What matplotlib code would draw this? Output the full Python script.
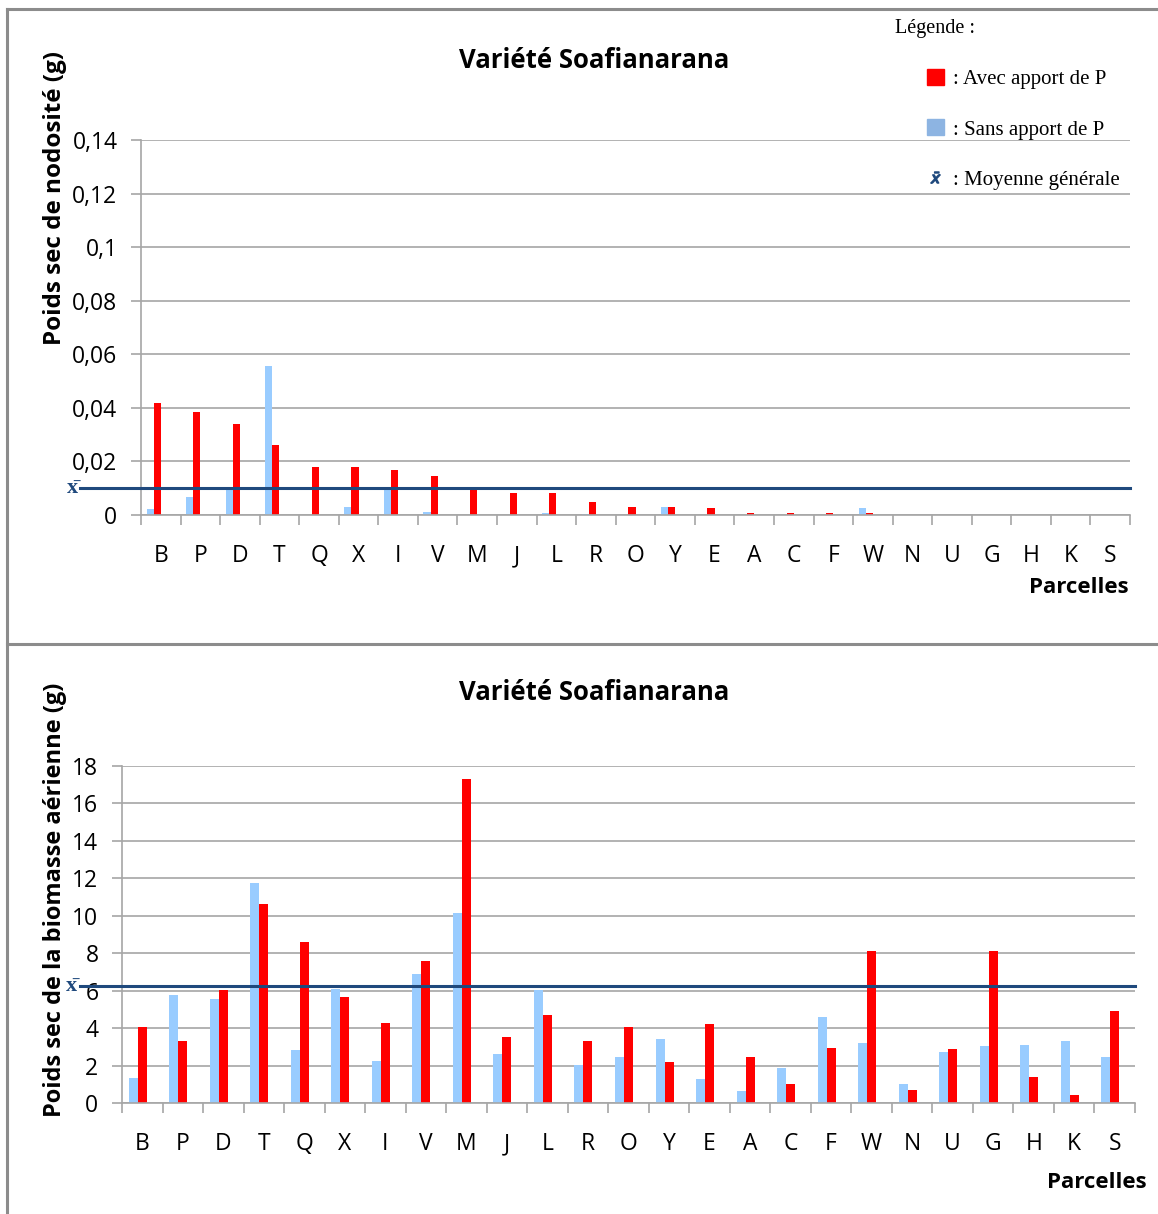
import matplotlib.pyplot as plt
import matplotlib.transforms as mtransforms
from matplotlib.patches import Patch
from matplotlib.lines import Line2D
import numpy as np

# Données
parcelles = list("BPDTQXIVMJLROYEACFWNUGHKS")

nod_avec = [0.0418, 0.0385, 0.0338, 0.0262, 0.0178, 0.0178, 0.0168, 0.0146, 0.0105,
            0.0082, 0.0082, 0.0050, 0.0031, 0.0031, 0.0026, 0.0006, 0.0006, 0.0006,
            0.0006, 0, 0, 0, 0, 0, 0]
nod_sans = [0.0022, 0.0066, 0.0103, 0.0556, 0, 0.0029, 0.0103, 0.0011, 0,
            0, 0.0006, 0.0005, 0, 0.0031, 0, 0, 0, 0,
            0.0026, 0, 0, 0, 0, 0, 0]
nod_moyenne = 0.0102

bio_sans = [1.35, 5.79, 5.53, 11.75, 2.82, 6.08, 2.25, 6.88, 10.16, 2.61, 6.02, 2.02, 2.46,
            3.41, 1.30, 0.64, 1.88, 4.57, 3.18, 1.02, 2.75, 3.04, 3.11, 3.32, 2.46]
bio_avec = [4.06, 3.32, 6.01, 10.64, 8.61, 5.65, 4.28, 7.61, 17.33, 3.55, 4.71, 3.32, 4.07,
            2.18, 4.20, 2.46, 1.02, 2.96, 8.13, 0.71, 2.89, 8.13, 1.38, 0.43, 4.93]
bio_moyenne = 6.25

nod_ticks = [0, 0.02, 0.04, 0.06, 0.08, 0.1, 0.12, 0.14]
nod_ticklabels = ["0", "0,02", "0,04", "0,06", "0,08", "0,1", "0,12", "0,14"]
bio_ticks = list(range(0, 19, 2))

ROUGE = "#ff0000"
BLEU = "#99ccff"
MOY = "#1f497d"
GRIS = "#a6a6a6"
SANS = "Open Sans"
SERIF = "Liberation Serif"

W, H = 1158, 1214
fig = plt.figure(figsize=(W / 100, H / 100), dpi=100)


def fx(x):
    return x / W


def fy(y):
    return 1 - y / H


def axe(left, top, right, bottom):
    return fig.add_axes([fx(left), fy(bottom), fx(right) - fx(left), fy(top) - fy(bottom)])


def habiller(ax, ticks, labels, ymax):
    x = np.arange(len(parcelles))
    ax.set_xlim(-0.5, len(parcelles) - 0.5)
    ax.set_ylim(0, ymax)
    ax.set_yticks(ticks)
    ax.set_yticklabels(labels, fontfamily=SANS, fontsize=16.5)
    ax.set_xticks(x)
    ax.set_xticklabels(parcelles, fontfamily=SANS, fontsize=16.5)
    ax.set_xticks(np.arange(len(parcelles) + 1) - 0.5, minor=True)
    ax.tick_params(axis="x", which="major", length=0, pad=21)
    ax.tick_params(axis="x", which="minor", length=7, width=1.2, color=GRIS)
    ax.tick_params(axis="y", length=7, width=1.2, color=GRIS, pad=10)
    ax.grid(axis="y", color=GRIS, linewidth=1.2)
    ax.set_axisbelow(True)
    for s in ["top", "right"]:
        ax.spines[s].set_visible(False)
    for s in ["left", "bottom"]:
        ax.spines[s].set_color(GRIS)
        ax.spines[s].set_linewidth(1.2)


x = np.arange(len(parcelles))

# ---- graphique du haut : nodosité ----
ax1 = axe(141, 140, 1130, 515)
ax1.bar(x - 0.27, nod_sans, width=0.18, color=BLEU, zorder=2)
ax1.bar(x - 0.09, nod_avec, width=0.18, color=ROUGE, zorder=2)
habiller(ax1, nod_ticks, nod_ticklabels, 0.14)
ax1.axhline(nod_moyenne, xmin=(80 - 141) / 989, xmax=1, color=MOY, linewidth=2.2,
            clip_on=False, zorder=3)
ax1.set_ylabel("Poids sec de nodosité (g)", fontfamily=SANS, fontsize=17.5, fontweight="bold")
ax1.yaxis.set_label_coords((67 - 141) / 989, (515 - 198) / 375)
tr1 = mtransforms.blended_transform_factory(fig.transFigure, ax1.transData)
ax1.text(fx(72), nod_moyenne, "x̄", transform=tr1, ha="center", va="center",
         fontfamily=SERIF, fontweight="bold", fontsize=16, color=MOY)
fig.text(fx(594), fy(60), "Variété Soafianarana", ha="center", va="center",
         fontfamily=SANS, fontsize=18.5, fontweight="bold")
fig.text(fx(1129), fy(588), "Parcelles", ha="right", va="center",
         fontfamily=SANS, fontsize=16, fontweight="bold")

# légende
fig.text(fx(895), fy(29), "Légende :", ha="left", va="center", fontfamily=SERIF, fontsize=14.5)
poignees = [Patch(color=ROUGE), Patch(color="#8db4e2"),
            Line2D([], [], linestyle="none", marker=r"$\bar{x}$", color=MOY, markersize=8)]
fig.legend(poignees, [": Avec apport de P", ": Sans apport de P", ": Moyenne générale"],
           loc="upper left", bbox_to_anchor=(fx(927), fy(69)), frameon=False,
           prop={"family": SERIF, "size": 15},
           handlelength=0.8, handleheight=0.8, handletextpad=0.45, labelspacing=1.45,
           borderpad=0, borderaxespad=0)

# ---- graphique du bas : biomasse aérienne ----
ax2 = axe(122, 766, 1135, 1103)
ax2.bar(x - 0.222, bio_sans, width=0.222, color=BLEU, zorder=2)
ax2.bar(x, bio_avec, width=0.222, color=ROUGE, zorder=2)
habiller(ax2, bio_ticks, [str(t) for t in bio_ticks], 18)
ax2.axhline(bio_moyenne, xmin=(80 - 122) / 1013, xmax=1, color=MOY, linewidth=2.2,
            clip_on=False, zorder=3)
ax2.set_ylabel("Poids sec de la biomasse aérienne (g)", fontfamily=SANS, fontsize=17,
               fontweight="bold")
ax2.yaxis.set_label_coords((67 - 122) / 1013, (1103 - 900) / 337)
tr2 = mtransforms.blended_transform_factory(fig.transFigure, ax2.transData)
ax2.text(fx(71), bio_moyenne, "x̄", transform=tr2, ha="center", va="center",
         fontfamily=SERIF, fontweight="bold", fontsize=16, color=MOY)
fig.text(fx(594), fy(692), "Variété Soafianarana", ha="center", va="center",
         fontfamily=SANS, fontsize=18.5, fontweight="bold")
fig.text(fx(1147), fy(1182), "Parcelles", ha="right", va="center",
         fontfamily=SANS, fontsize=16, fontweight="bold")

# cadres des deux panneaux
cadre = dict(color="#8c8c8c", linewidth=2.2, transform=fig.transFigure)
fig.add_artist(Line2D([fx(7), 1], [fy(9), fy(9)], **cadre))
fig.add_artist(Line2D([fx(7), fx(7)], [fy(9), 0], **cadre))
fig.add_artist(Line2D([fx(7), 1], [fy(644), fy(644)], **cadre))

fig.savefig("out.png", dpi=100)
